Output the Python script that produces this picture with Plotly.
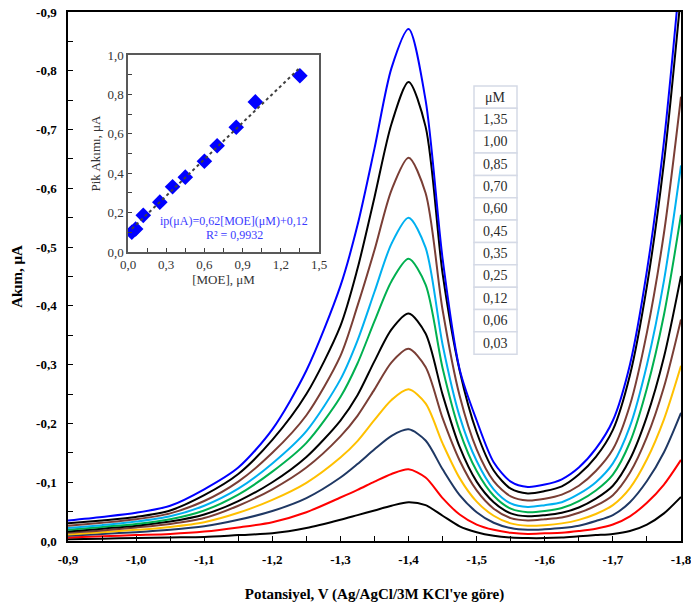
import plotly.graph_objects as go
import numpy as np

# ---------------- data ----------------
potential = [-0.90, -0.95, -1.00, -1.05, -1.10, -1.15, -1.20, -1.25, -1.30, -1.325, -1.35, -1.375,
             -1.40, -1.425, -1.45, -1.475, -1.50, -1.525, -1.55, -1.575, -1.60, -1.625, -1.65,
             -1.675, -1.70, -1.725, -1.75, -1.775, -1.80]

conc = [0.03, 0.06, 0.12, 0.25, 0.35, 0.45, 0.60, 0.70, 0.85, 1.00, 1.35]

# current magnitudes (µA, cathodic -> plotted as negative)
i_003 = [0.003, 0.004, 0.005, 0.006, 0.007, 0.010, 0.013, 0.022, 0.036, 0.044, 0.052, 0.060, 0.066, 0.061,
         0.043, 0.025, 0.015, 0.009, 0.006, 0.005, 0.005, 0.006, 0.008, 0.010, 0.012, 0.017, 0.028, 0.047, 0.075]
i_006 = [0.006, 0.008, 0.010, 0.012, 0.016, 0.023, 0.032, 0.049, 0.074, 0.087, 0.101, 0.114, 0.122, 0.108,
         0.073, 0.045, 0.028, 0.019, 0.014, 0.012, 0.013, 0.014, 0.017, 0.021, 0.028, 0.042, 0.065, 0.096, 0.138]
i_012 = [0.009, 0.012, 0.015, 0.019, 0.025, 0.036, 0.051, 0.073, 0.108, 0.131, 0.156, 0.179, 0.190, 0.171,
         0.122, 0.078, 0.049, 0.031, 0.022, 0.019, 0.020, 0.022, 0.026, 0.034, 0.044, 0.066, 0.102, 0.151, 0.218]
i_025 = [0.011, 0.015, 0.019, 0.024, 0.032, 0.048, 0.070, 0.099, 0.142, 0.170, 0.206, 0.240, 0.258, 0.234,
         0.166, 0.107, 0.067, 0.043, 0.030, 0.026, 0.027, 0.030, 0.036, 0.046, 0.061, 0.090, 0.139, 0.207, 0.298]
i_035 = [0.014, 0.018, 0.023, 0.029, 0.039, 0.060, 0.088, 0.125, 0.178, 0.213, 0.258, 0.304, 0.327, 0.296,
         0.209, 0.137, 0.086, 0.055, 0.039, 0.035, 0.037, 0.040, 0.048, 0.060, 0.078, 0.116, 0.177, 0.262, 0.377]
i_045 = [0.016, 0.021, 0.026, 0.033, 0.045, 0.068, 0.100, 0.143, 0.205, 0.248, 0.306, 0.360, 0.387, 0.353,
         0.249, 0.160, 0.101, 0.066, 0.047, 0.042, 0.044, 0.048, 0.057, 0.072, 0.094, 0.139, 0.212, 0.313, 0.451]
i_060 = [0.019, 0.024, 0.029, 0.037, 0.052, 0.079, 0.118, 0.167, 0.245, 0.302, 0.374, 0.442, 0.480, 0.436,
         0.294, 0.187, 0.119, 0.077, 0.055, 0.049, 0.051, 0.056, 0.068, 0.086, 0.113, 0.168, 0.260, 0.385, 0.555]
i_070 = [0.022, 0.027, 0.033, 0.042, 0.060, 0.089, 0.132, 0.187, 0.275, 0.341, 0.424, 0.506, 0.550, 0.499,
         0.334, 0.212, 0.136, 0.088, 0.064, 0.058, 0.061, 0.066, 0.080, 0.100, 0.132, 0.195, 0.300, 0.443, 0.639]
i_085 = [0.026, 0.031, 0.037, 0.047, 0.068, 0.101, 0.150, 0.214, 0.315, 0.400, 0.495, 0.597, 0.652, 0.592,
         0.393, 0.247, 0.156, 0.102, 0.076, 0.069, 0.072, 0.079, 0.094, 0.119, 0.156, 0.231, 0.355, 0.524, 0.756]
i_100 = [0.030, 0.035, 0.041, 0.052, 0.078, 0.114, 0.172, 0.250, 0.366, 0.463, 0.585, 0.710, 0.781, 0.705,
         0.455, 0.290, 0.185, 0.120, 0.089, 0.081, 0.085, 0.093, 0.113, 0.143, 0.189, 0.282, 0.434, 0.644, 0.931]
i_135 = [0.035, 0.041, 0.048, 0.060, 0.088, 0.125, 0.190, 0.290, 0.434, 0.537, 0.668, 0.805, 0.871, 0.750,
         0.480, 0.292, 0.205, 0.134, 0.101, 0.092, 0.096, 0.105, 0.125, 0.157, 0.205, 0.300, 0.460, 0.680, 0.980]

# inset: peak current vs concentration
inset_conc = [0.03, 0.06, 0.12, 0.25, 0.35, 0.45, 0.60, 0.70, 0.85, 1.00, 1.35]
inset_peak = [0.100, 0.117, 0.186, 0.253, 0.331, 0.380, 0.461, 0.539, 0.633, 0.762, 0.895]

x_ticks = [-0.9, -1.0, -1.1, -1.2, -1.3, -1.4, -1.5, -1.6, -1.7, -1.8]
y_ticks = [0.0, -0.1, -0.2, -0.3, -0.4, -0.5, -0.6, -0.7, -0.8, -0.9]
inset_x_ticks = [0.0, 0.3, 0.6, 0.9, 1.2, 1.5]
inset_y_ticks = [0.0, 0.2, 0.4, 0.6, 0.8, 1.0]

equation_text = "ip(μA)=0,62[MOE](μM)+0,12"
r2_text = "R² = 0,9932"

# ---------------- styling ----------------
curves = [i_003, i_006, i_012, i_025, i_035, i_045, i_060, i_070, i_085, i_100, i_135]
colors = ['#000000', '#ff0000', '#1f3864', '#ffc000', '#7a3e35', '#000000',
          '#00b050', '#00b0f0', '#7a3e35', '#000000', '#0000ff']

SERIF = 'Liberation Serif'


def fmt(v, nd=1):
    return f"{v:.{nd}f}".replace('.', ',')


fig = go.Figure()

for c, cur, col in zip(conc, curves, colors):
    fig.add_trace(go.Scatter(
        x=potential, y=[-v for v in cur], mode='lines',
        line=dict(color=col, width=2, shape='spline', smoothing=0.8),
        name=fmt(c, 2), hoverinfo='skip'))

# inset scatter
fig.add_trace(go.Scatter(
    x=inset_conc, y=inset_peak, mode='markers', xaxis='x2', yaxis='y2',
    marker=dict(symbol='diamond', size=12, color='#0000ff'), hoverinfo='skip'))

# linear trend line computed from inset data
slope, intercept = np.polyfit(inset_conc, inset_peak, 1)
fx = [min(inset_conc), max(inset_conc)]
fig.add_trace(go.Scatter(
    x=fx, y=[slope * v + intercept for v in fx], mode='lines', xaxis='x2', yaxis='y2',
    line=dict(color='#404040', width=2, dash='dot'), hoverinfo='skip'))

# ---------------- layout ----------------
L, R, T, B = 68, 10, 12, 65
W, H = 691, 606
PW, PH = W - L - R, H - T - B


def px_x(px):
    return (px - L) / PW


def px_y(py):
    return (H - B - py) / PH


main_font = dict(family=SERIF, size=13, color='black', weight='bold')

fig.update_layout(
    template='none',
    width=W, height=H,
    margin=dict(l=L, r=R, t=T, b=B, autoexpand=False),
    paper_bgcolor='white', plot_bgcolor='white',
    showlegend=False,
    xaxis=dict(
        automargin=False, ticklabeloverflow='allow', ticklabelstandoff=6,
        range=[-0.9, -1.8], tickvals=x_ticks, ticktext=[fmt(v) for v in x_ticks],
        ticks='inside', ticklen=5, tickcolor='black', tickwidth=1,
        showline=True, linecolor='black', linewidth=1.5, mirror=True,
        showgrid=False, zeroline=False, tickfont=main_font,
        minor=dict(ticks='inside', ticklen=5, tickcolor='black', dtick=0.05, tick0=-0.9, showgrid=False),
        title=dict(text="Potansiyel, V (Ag/AgCl/3M KCl'ye göre)",
                   font=dict(family=SERIF, size=15, color='black', weight='bold'), standoff=22),
    ),
    yaxis=dict(
        automargin=False, ticklabeloverflow='allow', ticklabelstandoff=7,
        range=[0, -0.9], tickvals=y_ticks, ticktext=[fmt(v) for v in y_ticks],
        ticks='inside', ticklen=5, tickcolor='black', tickwidth=1,
        showline=True, linecolor='black', linewidth=1.5, mirror=True,
        showgrid=False, zeroline=False, tickfont=main_font,
        minor=dict(ticks='inside', ticklen=5, tickcolor='black', dtick=0.05, tick0=0, showgrid=False),
        title=dict(text="Akım, μA", font=dict(family=SERIF, size=15, color='black', weight='bold'),
                   standoff=10),
    ),
    xaxis2=dict(
        automargin=False,
        domain=[px_x(128), px_x(319)], anchor='y2', range=[0, 1.5],
        tickvals=inset_x_ticks, ticktext=[fmt(v) for v in inset_x_ticks],
        ticks='inside', ticklen=4, tickcolor='#404040',
        showline=True, linecolor='#595959', linewidth=1.5, mirror=True,
        showgrid=False, zeroline=False,
        tickfont=dict(family=SERIF, size=13, color='#333333'),
        minor=dict(ticks='inside', ticklen=4, tickcolor='#404040', dtick=0.15, tick0=0, showgrid=False),
        title=dict(text="[MOE], μM", font=dict(family=SERIF, size=13, color='#333333'), standoff=4),
    ),
    yaxis2=dict(
        automargin=False,
        domain=[px_y(252), px_y(55)], anchor='x2', range=[0, 1.0],
        tickvals=inset_y_ticks, ticktext=[fmt(v) for v in inset_y_ticks],
        ticks='inside', ticklen=4, tickcolor='#404040',
        showline=True, linecolor='#595959', linewidth=1.5, mirror=True,
        showgrid=False, zeroline=False,
        tickfont=dict(family=SERIF, size=13, color='#333333'),
        minor=dict(ticks='inside', ticklen=4, tickcolor='#404040', dtick=0.1, tick0=0, showgrid=False),
        title=dict(text="Pik Akımı, μA", font=dict(family=SERIF, size=13, color='#333333'), standoff=4),
    ),
)

# inset white background
fig.add_shape(type='rect', xref='x2 domain', yref='y2 domain', x0=0, x1=1, y0=0, y1=1,
              fillcolor='white', line=dict(width=0), layer='below')

# equation annotation
eq_font = dict(family=SERIF, size=12, color='#3b3bff')
fig.add_annotation(x=px_x(234), y=px_y(221), xref='paper', yref='paper',
                   text=equation_text, showarrow=False, font=eq_font,
                   xanchor='center', yanchor='middle')
fig.add_annotation(x=px_x(234), y=px_y(235), xref='paper', yref='paper',
                   text=r2_text, showarrow=False, font=eq_font, xanchor='center', yanchor='middle')

# concentration table (legend)
row_h = 22.35
tx0, tx1 = 474, 517
ty0 = 86
rows = ["μM"] + [fmt(c, 2) for c in sorted(conc, reverse=True)]
for i, label in enumerate(rows):
    top = ty0 + i * row_h
    fig.add_shape(type='rect', xref='paper', yref='paper',
                  x0=px_x(tx0), x1=px_x(tx1), y0=px_y(top + row_h), y1=px_y(top),
                  fillcolor='white', line=dict(color='#d5dae6', width=1.5))
    fig.add_annotation(x=px_x((tx0 + tx1) / 2), y=px_y(top + row_h / 2), xref='paper', yref='paper',
                       text=label, showarrow=False, xanchor='center', yanchor='middle',
                       font=dict(family=SERIF, size=14, color='#2b2b2b'))

fig.write_html("out.html", config={'displayModeBar': False},
               post_script="document.body.style.margin='0';document.body.style.padding='0';")
